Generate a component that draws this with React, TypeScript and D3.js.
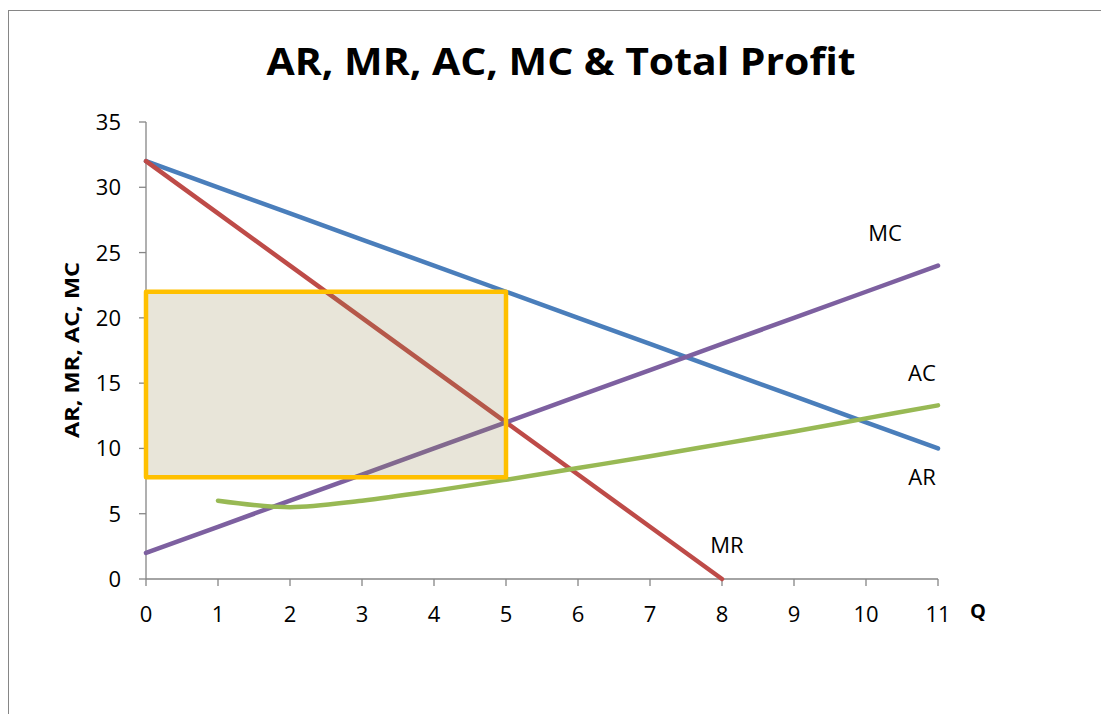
import React from "react";
import * as d3 from "d3";

const qValues = [0, 1, 2, 3, 4, 5, 6, 7, 8, 9, 10, 11];
const arValues = [32, 30, 28, 26, 24, 22, 20, 18, 16, 14, 12, 10];
const mrQ = [0, 1, 2, 3, 4, 5, 6, 7, 8];
const mrValues = [32, 28, 24, 20, 16, 12, 8, 4, 0];
const mcValues = [2, 4, 6, 8, 10, 12, 14, 16, 18, 20, 22, 24];
const acQ = [1, 2, 3, 4, 5, 6, 7, 8, 9, 10, 11];
const acValues = [6, 5.5, 6, 6.75, 7.6, 8.5, 9.4, 10.35, 11.3, 12.3, 13.3];
const profitRect = { q0: 0, q1: 5, p0: 7.8, p1: 22 };
const yTicks = [0, 5, 10, 15, 20, 25, 30, 35];
const xTicks = [0, 1, 2, 3, 4, 5, 6, 7, 8, 9, 10, 11];

const FONT = "'Open Sans', 'Liberation Sans', sans-serif";

export default function App() {
  const x = d3.scaleLinear().domain([0, 11]).range([146, 938]);
  const y = d3.scaleLinear().domain([0, 35]).range([579, 122]);
  const line = d3
    .line<[number, number]>()
    .x((d) => x(d[0]))
    .y((d) => y(d[1]));
  const smooth = d3
    .line<[number, number]>()
    .x((d) => x(d[0]))
    .y((d) => y(d[1]))
    .curve(d3.curveCatmullRom.alpha(0.5));

  const ar = qValues.map((q, i) => [q, arValues[i]] as [number, number]);
  const mr = mrQ.map((q, i) => [q, mrValues[i]] as [number, number]);
  const mc = qValues.map((q, i) => [q, mcValues[i]] as [number, number]);
  const ac = acQ.map((q, i) => [q, acValues[i]] as [number, number]);

  const axisColor = "#868686";
  const lw = 4.5;
  const fs = 22;

  return (
    <svg
      width={1101}
      height={714}
      style={{ position: "absolute", left: 0, top: 0, background: "#fff" }}
    >
      <rect x={8.5} y={10.5} width={1200} height={1000} fill="none" stroke={axisColor} strokeWidth={1} />
      <text
        x={561}
        y={75}
        textAnchor="middle"
        fontFamily={FONT}
        fontWeight="bold"
        fontSize={37}
        textLength={589}
        lengthAdjust="spacingAndGlyphs"
        fill="#000"
      >
        AR, MR, AC, MC &amp; Total Profit
      </text>

      {/* axes */}
      <line x1={x(0)} x2={x(0)} y1={y(35)} y2={y(0)} stroke={axisColor} strokeWidth={1.3} />
      <line x1={x(0)} x2={x(11)} y1={y(0)} y2={y(0)} stroke={axisColor} strokeWidth={1.3} />
      {yTicks.map((t) => (
        <g key={"y" + t}>
          <line x1={x(0) - 7} x2={x(0)} y1={y(t)} y2={y(t)} stroke={axisColor} strokeWidth={1.3} />
          <text x={121} y={y(t) + 8} textAnchor="end" fontFamily={FONT} fontSize={fs} fill="#000">
            {t}
          </text>
        </g>
      ))}
      {xTicks.map((t) => (
        <g key={"x" + t}>
          <line x1={x(t)} x2={x(t)} y1={y(0)} y2={y(0) + 7} stroke={axisColor} strokeWidth={1.3} />
          <text x={x(t)} y={622} textAnchor="middle" fontFamily={FONT} fontSize={fs} fill="#000">
            {t}
          </text>
        </g>
      ))}

      {/* series */}
      <path d={line(ar) || ""} fill="none" stroke="#4a7ebb" strokeWidth={lw} strokeLinecap="round" />
      <path d={line(mr) || ""} fill="none" stroke="#be4b48" strokeWidth={lw} strokeLinecap="round" />
      <path d={line(mc) || ""} fill="none" stroke="#7d60a0" strokeWidth={lw} strokeLinecap="round" />
      <path d={smooth(ac) || ""} fill="none" stroke="#98b954" strokeWidth={lw} strokeLinecap="round" />

      {/* profit rectangle */}
      <rect
        x={x(profitRect.q0)}
        y={y(profitRect.p1)}
        width={x(profitRect.q1) - x(profitRect.q0)}
        height={y(profitRect.p0) - y(profitRect.p1)}
        fill="#948a54"
        fillOpacity={0.22}
        stroke="#ffc000"
        strokeWidth={4.5}
        strokeLinejoin="round"
      />

      {/* labels */}
      <text x={885} y={241} textAnchor="middle" fontFamily={FONT} fontSize={fs} fill="#000">MC</text>
      <text x={922} y={381} textAnchor="middle" fontFamily={FONT} fontSize={fs} fill="#000">AC</text>
      <text x={922} y={485} textAnchor="middle" fontFamily={FONT} fontSize={fs} fill="#000">AR</text>
      <text x={727} y={553} textAnchor="middle" fontFamily={FONT} fontSize={fs} fill="#000">MR</text>
      <text x={978} y={618} textAnchor="middle" fontFamily={FONT} fontWeight="bold" fontSize={20} fill="#000">Q</text>
      <text
        transform="translate(79,350) rotate(-90)"
        textAnchor="middle"
        fontFamily={FONT}
        fontWeight="bold"
        fontSize={20}
        textLength={176}
        lengthAdjust="spacingAndGlyphs"
        fill="#000"
      >
        AR, MR, AC, MC
      </text>
    </svg>
  );
}
